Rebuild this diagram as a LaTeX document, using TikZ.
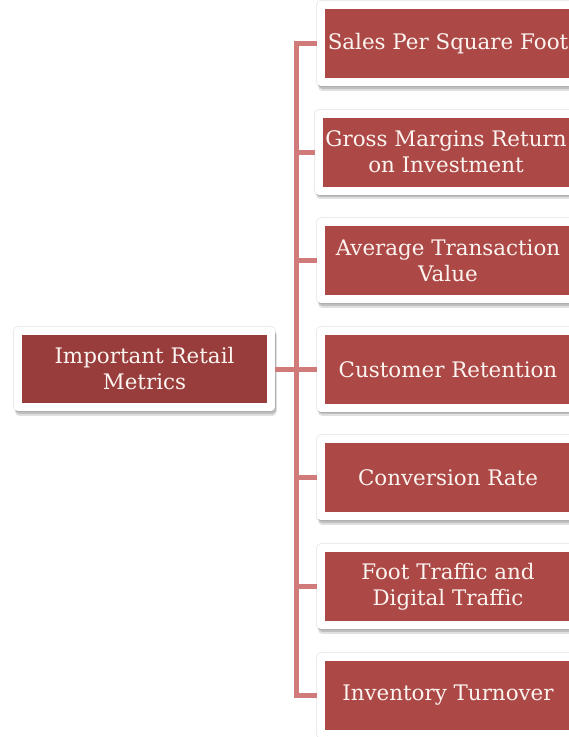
\documentclass[tikz,border=0pt]{standalone}
\usepackage{fontspec}
\setmainfont{DejaVu Serif}
\usetikzlibrary{shadows}

\definecolor{rootred}{RGB}{152,61,60}
\definecolor{leafred}{RGB}{172,73,70}
\definecolor{linkred}{RGB}{208,122,122}
\definecolor{labelwhite}{RGB}{252,244,240}

\begin{document}
\begin{tikzpicture}[x=1pt,y=-1pt,
    box/.style={draw=white, line width=8pt, line join=round, inner sep=2pt,
      align=center, text=labelwhite, font=\fontsize{21.4}{26}\selectfont,
      % faint rim all round, then a soft drop below
      general shadow={opacity=.08, fill=black, draw=black, line width=10pt},
      drop shadow={shadow xshift=1pt, shadow yshift=-4pt, opacity=.12,
        fill=black, draw=black, line width=9pt},
      drop shadow={shadow xshift=1pt, shadow yshift=-3pt, opacity=.15,
        fill=black, draw=black, line width=7pt}},
    rootbox/.style={box, fill=rootred, minimum width=253pt, minimum height=76pt},
    leafbox/.style={box, fill=leafred, minimum width=254pt, minimum height=77pt},
    link/.style={draw=linkred, line width=5pt}]
  \useasboundingbox (0,0) rectangle (569,737);

  % root and the seven metrics
  \node[rootbox] (metrics) at (144.5,369) {Important Retail\\Metrics};
  \node[leafbox] (m1) at (448,43.5)  {Sales Per Square Foot};
  \node[leafbox] (m2) at (446,152.1) {Gross Margins Return\\on Investment};
  \node[leafbox] (m3) at (448,260.7) {Average Transaction\\Value};
  \node[leafbox] (m4) at (448,369.3) {Customer Retention};
  \node[leafbox] (m5) at (448,477.9) {Conversion Rate};
  \node[leafbox] (m6) at (448,586.5) {Foot Traffic and\\Digital Traffic};
  \node[leafbox] (m7) at (448,695.1) {Inventory Turnover};

  % bracket
  \coordinate (bus) at (296,369);
  \draw[link] (metrics.east) -- (bus);
  \foreach \i in {1,...,7}
    \draw[link] (bus) |- (m\i.west);
\end{tikzpicture}
\end{document}
